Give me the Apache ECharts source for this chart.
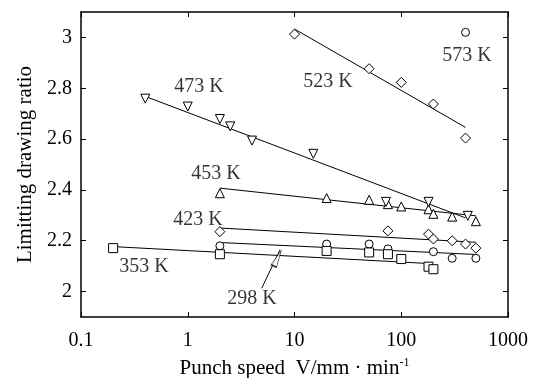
<!DOCTYPE html>
<html><head><meta charset="utf-8">
<script src="https://cdn.jsdelivr.net/npm/echarts@6/dist/echarts.min.js"></script>
<style>html,body{margin:0;padding:0;background:#fff}#c{width:535px;height:378px}</style>
</head><body><div id="c"></div><script>
// ---- data ----
const xTickLabels = ['0.1', '1', '10', '100', '1000'];
const yTickValues = [2, 2.2, 2.4, 2.6, 2.8, 3];

const speed298 = [2, 20, 50, 75, 200, 300, 500];
const ldr298   = [2.18, 2.187, 2.187, 2.168, 2.157, 2.131, 2.131];
const speed353 = [0.2, 2, 20, 50, 75, 100, 180, 200];
const ldr353   = [2.171, 2.147, 2.16, 2.154, 2.147, 2.128, 2.098, 2.088];
const speed423 = [2, 75, 180, 200, 300, 400, 500];
const ldr423   = [2.236, 2.239, 2.226, 2.207, 2.2, 2.187, 2.171];
const speed453 = [2, 20, 50, 75, 100, 180, 200, 300, 500];
const ldr453   = [2.387, 2.368, 2.361, 2.344, 2.335, 2.324, 2.306, 2.295, 2.277];
const speed473 = [0.4, 1, 2, 2.5, 4, 15, 72, 180, 420];
const ldr473   = [2.759, 2.728, 2.679, 2.65, 2.594, 2.542, 2.353, 2.353, 2.298];
const speed523 = [10, 50, 100, 200, 400];
const ldr523   = [3.013, 2.877, 2.823, 2.738, 2.604];
const speed573 = [400];
const ldr573   = [3.02];

// fitted lines: [x0, x1], [y0, y1]
const fit298x = [2, 500],   fit298y = [2.193, 2.146];
const fit353x = [0.2, 190], fit353y = [2.177, 2.110];
const fit423x = [2, 500],   fit423y = [2.25, 2.194];
const fit453x = [2, 500],   fit453y = [2.407, 2.298];
const fit473x = [0.4, 400], fit473y = [2.768, 2.29];
const fit523x = [10, 400],  fit523y = [3.033, 2.646];

// temperature labels
const labelText = ['473 K', '523 K', '573 K', '453 K', '423 K', '353 K', '298 K'];
const labelX    = [1.275, 20.6, 413, 1.84, 1.247, 0.389, 4.0];
const labelY    = [2.806, 2.826, 2.928, 2.463, 2.282, 2.097, 1.971];

// arrow for 298 K
const arrowX = [4.93, 7.31], arrowY = [2.013, 2.164];
const arrowHeadX = [6.93], arrowHeadY = [2.131];

// ---- chart ----
const FONT = 'Liberation Serif, Times New Roman, serif';
const zip = (a, b) => a.map((v, i) => [v, b[i]]);
const chart = echarts.init(document.getElementById('c'), null, {renderer: 'canvas'});

function pts(name, xs, ys, symbol, size, rotate) {
  return {
    name, type: 'scatter', data: zip(xs, ys), symbol, symbolSize: size,
    symbolRotate: rotate || 0,
    itemStyle: {color: '#fff', borderColor: '#000', borderWidth: 1, opacity: 1},
    z: 5, silent: true
  };
}
function fit(xs, ys) {
  return {
    type: 'line', data: zip(xs, ys), symbol: 'none',
    lineStyle: {color: '#000', width: 1}, z: 3, silent: true
  };
}
const axisCommon = {
  axisLine: {show: true, lineStyle: {color: '#000', width: 1.5}},
  splitLine: {show: false},
};

chart.setOption({
  animation: false,
  backgroundColor: '#fff',
  grid: {left: 81, right: 27, top: 12, bottom: 61, outerBoundsMode: 'none', containLabel: false},
  xAxis: [{
    ...axisCommon, type: 'log', logBase: 10, min: 0.1, max: 1000, position: 'bottom',
    axisTick: {show: true, inside: true, length: 5, lineStyle: {color: '#000', width: 1}},
    axisLabel: {color: '#000', fontFamily: FONT, fontSize: 20, margin: 14,
      formatter: v => xTickLabels[Math.round(Math.log10(v)) + 1]},
    name: '{a|Punch speed  V/mm · min}{s|-1}', nameLocation: 'middle', nameGap: 40,
    nameTextStyle: {fontFamily: FONT, color: '#000',
      rich: {a: {fontFamily: FONT, fontSize: 21, color: '#000'},
             s: {fontFamily: FONT, fontSize: 12, color: '#000', padding: [0, 0, 10, 0]}}}
  }, {
    ...axisCommon, type: 'log', logBase: 10, min: 0.1, max: 1000, position: 'top',
    axisTick: {show: true, inside: true, length: 5, lineStyle: {color: '#000', width: 1}},
    axisLabel: {show: false}
  }],
  yAxis: [{
    ...axisCommon, type: 'value', min: 1.9, max: 3.1, position: 'left',
    axisTick: {show: true, inside: true, length: 5, customValues: yTickValues,
      lineStyle: {color: '#000', width: 1}},
    axisLabel: {color: '#000', fontFamily: FONT, fontSize: 20, margin: 9,
      customValues: yTickValues, formatter: v => String(+(+v).toFixed(1))},
    name: 'Limitting drawing ratio', nameLocation: 'middle', nameRotate: 90, nameGap: 42,
    nameTextStyle: {fontFamily: FONT, fontSize: 21, color: '#000'}
  }, {
    ...axisCommon, type: 'value', min: 1.9, max: 3.1, position: 'right',
    axisTick: {show: true, inside: true, length: 5, customValues: yTickValues,
      lineStyle: {color: '#000', width: 1}},
    axisLabel: {show: false}
  }],
  series: [
    fit(fit298x, fit298y), fit(fit353x, fit353y), fit(fit423x, fit423y),
    fit(fit453x, fit453y), fit(fit473x, fit473y), fit(fit523x, fit523y),
    pts('298 K', speed298, ldr298, 'circle', 8),
    pts('353 K', speed353, ldr353, 'rect', 9),
    pts('423 K', speed423, ldr423, 'diamond', 10),
    pts('453 K', speed453, ldr453, 'triangle', 9),
    pts('473 K', speed473, ldr473, 'triangle', 9, 180),
    pts('523 K', speed523, ldr523, 'diamond', 10),
    pts('573 K', speed573, ldr573, 'circle', 8),
    {type: 'line', data: zip(arrowX, arrowY), symbol: 'none',
      lineStyle: {color: '#000', width: 1}, z: 6, silent: true},
    {type: 'scatter', data: zip(arrowHeadX, arrowHeadY), symbol: 'triangle',
      symbolSize: [6, 17], symbolRotate: -25.5,
      itemStyle: {color: '#fff', borderColor: '#000', borderWidth: 1}, z: 7, silent: true},
    {type: 'scatter', symbolSize: 0, silent: true, z: 8,
      data: labelText.map((t, i) => ({value: [labelX[i], labelY[i]], name: t})),
      label: {show: true, position: 'inside', formatter: p => p.name,
        fontFamily: FONT, fontSize: 20, color: '#000'}}
  ]
});
</script></body></html>
